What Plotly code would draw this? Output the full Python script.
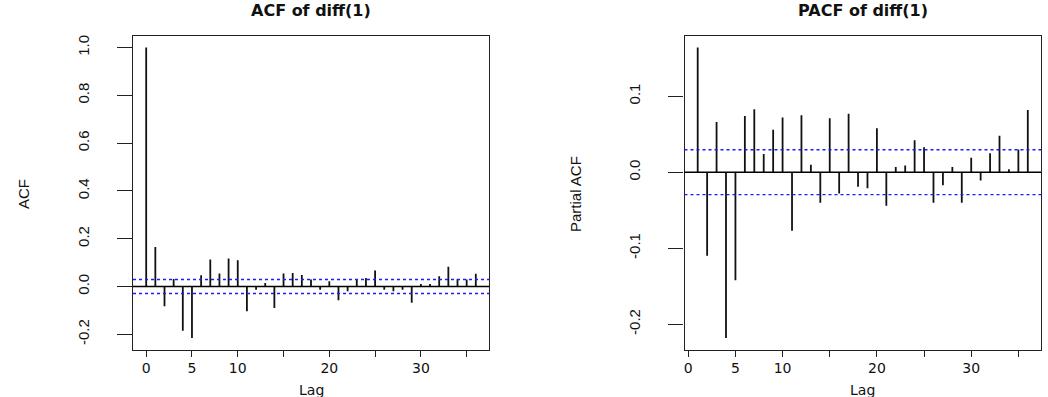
import plotly.graph_objects as go

# ---- data ----
acf_lags = list(range(0, 37))
acf_values = [1.000, 0.165, -0.083, 0.032, -0.185, -0.215, 0.047, 0.113, 0.055, 0.117,
              0.110, -0.103, -0.013, 0.015, -0.090, 0.055, 0.057, 0.048, 0.029, -0.013,
              0.022, -0.057, -0.020, 0.029, 0.036, 0.067, -0.013, -0.020, -0.013, -0.068,
              0.011, 0.011, 0.043, 0.083, 0.032, 0.029, 0.053]
pacf_lags = list(range(1, 37))
pacf_values = [0.164, -0.110, 0.066, -0.218, -0.142, 0.074, 0.083, 0.024, 0.056, 0.072,
               -0.077, 0.075, 0.010, -0.040, 0.071, -0.028, 0.077, -0.019, -0.021, 0.058,
               -0.044, 0.007, 0.009, 0.042, 0.033, -0.040, -0.017, 0.007, -0.040, 0.019,
               -0.011, 0.025, 0.048, 0.004, 0.030, 0.082]
conf_limit = 0.0295
x_tickvals = [0, 5, 10, 15, 20, 25, 30, 35]
x_ticktext = ["0", "5", "10", "", "20", "", "30", ""]
acf_yticks = [-0.2, 0.0, 0.2, 0.4, 0.6, 0.8, 1.0]
acf_yticktext = ["-0.2", "0.0", "0.2", "0.4", "0.6", "0.8", "1.0"]
pacf_yticks = [-0.2, -0.1, 0.0, 0.1]
pacf_yticktext = ["-0.2", "-0.1", "0.0", "0.1"]
titles = ["ACF of diff(1)", "PACF of diff(1)"]
ytitles = ["ACF", "Partial ACF"]
xtitle = "Lag"


def spikes(lags, vals):
    xs, ys = [], []
    for k, v in zip(lags, vals):
        xs += [k, k, None]
        ys += [0, v, None]
    return xs, ys


def r_range(lo, hi):
    s = hi - lo
    return [lo - 0.04 * s, hi + 0.04 * s]


W, H = 1048, 397
fig = go.Figure()

ax = spikes(acf_lags, acf_values)
fig.add_trace(go.Scatter(x=ax[0], y=ax[1], mode="lines",
                         line=dict(color="#111", width=1.8),
                         xaxis="x", yaxis="y", showlegend=False, hoverinfo="skip"))
px_, py_ = spikes(pacf_lags, pacf_values)
fig.add_trace(go.Scatter(x=px_, y=py_, mode="lines",
                         line=dict(color="#111", width=1.8),
                         xaxis="x2", yaxis="y2", showlegend=False, hoverinfo="skip"))

top = 1 - 36 / H
bot = 1 - 349.5 / H
dom1 = [133 / W, 489 / W]
dom2 = [684.5 / W, 1041 / W]

tickfont_x = dict(family="DejaVu Sans, Liberation Sans, Arial", size=14, color="#111")
tickfont_y = dict(family="Liberation Sans Narrow, Liberation Sans, Arial", size=15, color="#111")

common_x = dict(showline=True, linecolor="#222", linewidth=1.2, mirror=True,
                ticks="outside", ticklen=6, tickcolor="#222", tickwidth=1.2,
                showgrid=False, zeroline=False, tickvals=x_tickvals, ticktext=x_ticktext,
                tickfont=tickfont_x, ticklabelstandoff=0)
common_y = dict(showline=True, linecolor="#222", linewidth=1.2, mirror=True,
                ticks="outside", ticklen=15, tickcolor="#222", tickwidth=1.2,
                showgrid=False, zeroline=False, tickangle=-90, tickfont=tickfont_y,
                domain=[bot, top])

acf_yr = r_range(min(min(acf_values), -conf_limit), max(max(acf_values), conf_limit))
pacf_yr = r_range(min(min(pacf_values), -conf_limit), max(max(pacf_values), conf_limit))
acf_xr = r_range(min(acf_lags), max(acf_lags))
pacf_xr = r_range(min(pacf_lags), max(pacf_lags))

fig.update_layout(
    width=W, height=H, margin=dict(l=0, r=0, t=0, b=0),
    paper_bgcolor="white", plot_bgcolor="white",
    xaxis=dict(common_x, domain=dom1, range=acf_xr, anchor="y"),
    yaxis=dict(common_y, range=acf_yr, tickvals=acf_yticks, ticktext=acf_yticktext,
               anchor="x", ticklabelstandoff=22),
    xaxis2=dict(common_x, domain=dom2, range=pacf_xr, anchor="y2"),
    yaxis2=dict(common_y, range=pacf_yr, tickvals=pacf_yticks, ticktext=pacf_yticktext,
                anchor="x2", ticklabelstandoff=22),
)

shapes = []
for xr, yr in [("x", "y"), ("x2", "y2")]:
    shapes.append(dict(type="line", xref=xr + " domain", yref=yr, x0=0, x1=1, y0=0, y1=0,
                       line=dict(color="black", width=1.3)))
    for s in (conf_limit, -conf_limit):
        shapes.append(dict(type="line", xref=xr + " domain", yref=yr, x0=0, x1=1, y0=s, y1=s,
                           line=dict(color="#1a1aff", width=1.4, dash="3px,3px")))
fig.update_layout(shapes=shapes)

ann = []
centers = [(dom1[0] + dom1[1]) / 2, (dom2[0] + dom2[1]) / 2]
for c, t in zip(centers, titles):
    ann.append(dict(text="<b>" + t + "</b>", x=c, y=1 - 11 / H, xref="paper", yref="paper",
                    showarrow=False, xanchor="center", yanchor="middle",
                    font=dict(family="DejaVu Sans, Liberation Sans, Arial", size=16, color="#111")))
    ann.append(dict(text=xtitle, x=c, y=1 - 390 / H, xref="paper", yref="paper",
                    showarrow=False, xanchor="center", yanchor="middle",
                    font=dict(family="DejaVu Sans, Liberation Sans, Arial", size=14, color="#111")))
for xp, t in zip([23 / W, 575 / W], ytitles):
    ann.append(dict(text=t, x=xp, y=1 - 194 / H, xref="paper", yref="paper",
                    showarrow=False, xanchor="center", yanchor="middle", textangle=-90,
                    font=dict(family="Liberation Sans Narrow, Liberation Sans, Arial", size=15,
                              color="#111")))
fig.update_layout(annotations=ann)

fig.write_html("out.html")
